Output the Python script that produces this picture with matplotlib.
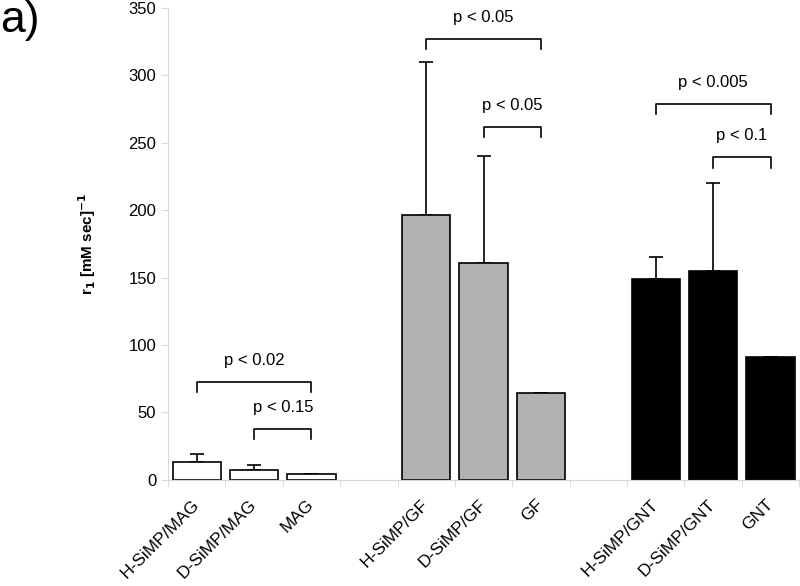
import matplotlib.pyplot as plt

plt.rcParams['font.family'] = ['Liberation Sans', 'DejaVu Sans']

# bar data (slots 3 and 7 are empty gaps between groups)
labels = ['H-SiMP/MAG', 'D-SiMP/MAG', 'MAG',
          'H-SiMP/GF', 'D-SiMP/GF', 'GF',
          'H-SiMP/GNT', 'D-SiMP/GNT', 'GNT']
slots = [0, 1, 2, 4, 5, 6, 8, 9, 10]
values = [13.6, 7.4, 4.2, 196.3, 160.5, 64.2, 148.6, 154.8, 90.9]
errors = [5.7, 3.7, 0, 113.6, 79.5, 0, 16.8, 65.0, 0]
colors = ['white'] * 3 + ['#b2b2b2'] * 3 + ['black'] * 3

# significance brackets: (left slot, right slot, height, text)
brackets = [(0, 2, 72.8, 'p < 0.02'), (1, 2, 37.8, 'p < 0.15'),
            (4, 6, 327, 'p < 0.05'), (5, 6, 261.5, 'p < 0.05'),
            (8, 10, 278.5, 'p < 0.005'), (9, 10, 239, 'p < 0.1')]

fig = plt.figure(figsize=(8, 5.86), dpi=100)
ax = fig.add_axes([0.21, 0.181, 0.789, 0.806])

centers = [s + 0.5 for s in slots]
ax.bar(centers, values, width=0.84, color=colors, edgecolor='black',
       linewidth=1.2, zorder=2)
ax.errorbar(centers, values, yerr=[[0] * len(errors), errors], fmt='none',
            ecolor='black', elinewidth=1.2, capsize=5, capthick=1.2, zorder=1)

for l, r, h, txt in brackets:
    xl, xr = l + 0.5, r + 0.5
    ax.plot([xl, xl, xr, xr], [h - 7.5, h, h, h - 7.5], color='black', lw=1.2)
    ax.text((xl + xr) / 2, h + 16, txt, ha='center', va='center', fontsize=12)

ax.set_xlim(0, 11)
ax.set_ylim(0, 350)
ax.set_yticks(range(0, 351, 50))
ax.set_xticks(centers)
ax.set_xticklabels(labels, rotation=45, ha='right', va='center',
                   rotation_mode='anchor', fontsize=12.5)
ax.set_xticks(range(0, 12), minor=True)
ax.tick_params(axis='x', which='major', length=0, pad=16)
ax.tick_params(axis='x', which='minor', length=5, color='#d9d9d9')
ax.tick_params(axis='y', labelsize=12, length=5, color='#d9d9d9')

for side in ['top', 'right']:
    ax.spines[side].set_visible(False)
for side in ['left', 'bottom']:
    ax.spines[side].set_color('#d9d9d9')

ax.set_ylabel(r'r$_\mathbf{1}$ [mM sec]$^\mathbf{-1}$', fontsize=11,
              fontweight='bold', labelpad=22)
fig.text(0.0, 1.0, 'a)', fontsize=32, ha='left', va='top')

plt.savefig('out.png', dpi=100)
plt.close()
